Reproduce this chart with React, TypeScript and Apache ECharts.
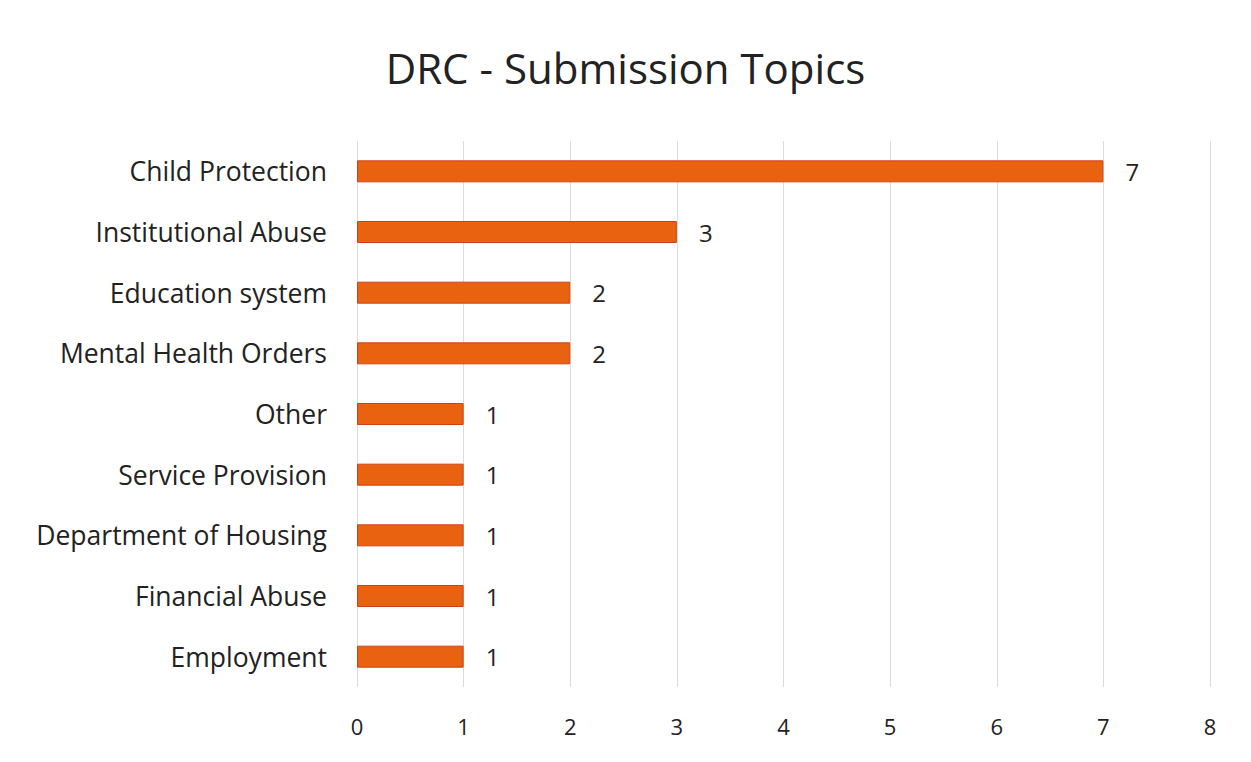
import React, { useEffect, useRef } from "react";
import * as echarts from "echarts";

const categories = [
  "Child Protection",
  "Institutional Abuse",
  "Education system",
  "Mental Health Orders",
  "Other",
  "Service Provision",
  "Department of Housing",
  "Financial Abuse",
  "Employment",
];
const values = [7, 3, 2, 2, 1, 1, 1, 1, 1];
const titleText = "DRC - Submission Topics";

export default function App() {
  const ref = useRef<HTMLDivElement>(null);
  useEffect(() => {
    if (!ref.current) return;
    const chart = echarts.init(ref.current, null, { renderer: "svg" });
    const font = "'Open Sans', Lato, sans-serif";
    chart.setOption({
      animation: false,
      backgroundColor: "#ffffff",
      title: {
        text: titleText,
        left: "center",
        top: 41,
        textStyle: { fontFamily: font, fontSize: 42, fontWeight: "normal", color: "#222222" },
      },
      grid: { left: 357, right: 41, top: 141, bottom: 75, containLabel: false },
      xAxis: {
        type: "value",
        min: 0,
        max: 8,
        interval: 1,
        axisLine: { show: false },
        axisTick: { show: false },
        splitLine: { show: true, lineStyle: { color: "#dcdcdc", width: 1 } },
        axisLabel: { fontFamily: font, fontSize: 22, color: "#222222", margin: 28 },
      },
      yAxis: {
        type: "category",
        data: categories,
        inverse: true,
        axisLine: { show: false },
        axisTick: { show: false },
        splitLine: { show: false },
        axisLabel: { fontFamily: font, fontSize: 26.5, color: "#222222", margin: 30 },
      },
      series: [
        {
          type: "bar",
          data: values,
          barWidth: 22,
          itemStyle: { color: "#E8620F", borderColor: "#D0401A", borderWidth: 1 },
          label: {
            show: true,
            position: "right",
            distance: 22,
            fontFamily: font,
            fontSize: 24,
            color: "#222222",
          },
        },
      ],
    });
    return () => chart.dispose();
  }, []);
  return (
    <div
      ref={ref}
      style={{ position: "absolute", left: 0, top: 0, width: 1251, height: 762 }}
    />
  );
}
